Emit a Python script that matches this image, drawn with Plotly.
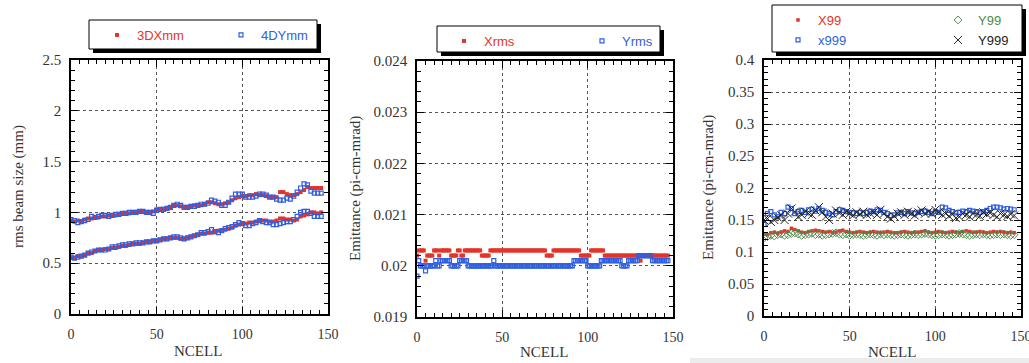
import plotly.graph_objects as go

W, H = 1029, 363

# ---------------- data ----------------
# Panel 1: rms beam size (mm), every 2nd cell, two bands per series
cells_p1 = list(range(0, 148, 2))
dx_upper = [0.92, 0.91, 0.92, 0.91, 0.93, 0.94, 0.94, 0.95, 0.95, 0.96,
            0.96, 0.97, 0.97, 0.97, 0.98, 0.99, 0.99, 0.99, 1.00, 1.00,
            1.01, 1.01, 1.00, 1.00, 1.01, 1.03, 1.03, 1.03, 1.04, 1.05,
            1.07, 1.07, 1.06, 1.05, 1.05, 1.06, 1.07, 1.07, 1.07, 1.08,
            1.10, 1.10, 1.09, 1.08, 1.08, 1.09, 1.10, 1.12, 1.14, 1.15,
            1.16, 1.16, 1.17, 1.17, 1.18, 1.17, 1.17, 1.16, 1.15, 1.15,
            1.15, 1.20, 1.20, 1.18, 1.17, 1.17, 1.18, 1.20, 1.22, 1.25,
            1.24, 1.24, 1.24, 1.24]
dx_lower = [0.55, 0.55, 0.57, 0.57, 0.58, 0.60, 0.60, 0.62, 0.63, 0.63,
            0.64, 0.64, 0.65, 0.65, 0.66, 0.67, 0.67, 0.68, 0.69, 0.69,
            0.69, 0.70, 0.71, 0.71, 0.72, 0.72, 0.73, 0.74, 0.74, 0.75,
            0.75, 0.75, 0.74, 0.74, 0.75, 0.76, 0.77, 0.78, 0.79, 0.79,
            0.80, 0.80, 0.81, 0.82, 0.82, 0.83, 0.84, 0.85, 0.87, 0.88,
            0.89, 0.89, 0.90, 0.90, 0.91, 0.92, 0.92, 0.92, 0.91, 0.91,
            0.92, 0.94, 0.94, 0.93, 0.93, 0.92, 0.93, 0.96, 0.97, 0.98,
            1.00, 1.00, 0.99, 1.00]
dy_upper = [0.93, 0.92, 0.90, 0.91, 0.92, 0.93, 0.96, 0.95, 0.96, 0.97,
            0.97, 0.96, 0.97, 0.98, 0.98, 0.99, 0.99, 1.00, 1.00, 1.00,
            1.01, 1.01, 1.00, 1.00, 0.99, 1.02, 1.03, 1.03, 1.04, 1.05,
            1.07, 1.08, 1.07, 1.05, 1.05, 1.06, 1.06, 1.07, 1.08, 1.08,
            1.09, 1.12, 1.11, 1.10, 1.07, 1.07, 1.10, 1.14, 1.18, 1.18,
            1.18, 1.15, 1.15, 1.15, 1.16, 1.18, 1.18, 1.17, 1.15, 1.15,
            1.13, 1.12, 1.12, 1.14, 1.13, 1.16, 1.20, 1.24, 1.28, 1.27,
            1.21, 1.19, 1.19, 1.19]
dy_lower = [0.56, 0.55, 0.56, 0.57, 0.58, 0.60, 0.61, 0.62, 0.63, 0.63,
            0.63, 0.64, 0.66, 0.66, 0.67, 0.68, 0.68, 0.69, 0.69, 0.70,
            0.70, 0.70, 0.71, 0.71, 0.72, 0.72, 0.73, 0.74, 0.74, 0.75,
            0.76, 0.76, 0.75, 0.74, 0.75, 0.76, 0.77, 0.78, 0.80, 0.80,
            0.81, 0.83, 0.81, 0.80, 0.82, 0.84, 0.85, 0.86, 0.88, 0.90,
            0.89, 0.87, 0.87, 0.89, 0.90, 0.92, 0.91, 0.90, 0.90, 0.88,
            0.88, 0.89, 0.90, 0.91, 0.91, 0.93, 0.96, 1.00, 1.01, 1.01,
            0.99, 0.96, 0.96, 0.96]

# Panel 2: rms emittance, every cell
cells_p2 = list(range(0, 148))
xrms = [0.0202, 0.0203, 0.0203, 0.0203, 0.0203, 0.0201, 0.0202, 0.0202, 0.0202, 0.0202,
        0.0203, 0.0203, 0.0203, 0.0202, 0.0203, 0.0203, 0.0203, 0.0203, 0.0203, 0.0203,
        0.0202, 0.0202, 0.0202, 0.0202, 0.0203, 0.0203, 0.0202, 0.0202, 0.0203, 0.0203,
        0.0203, 0.0203, 0.0203, 0.0203, 0.0203, 0.0203, 0.0203, 0.0203, 0.0202, 0.0202,
        0.0202, 0.0202, 0.0202, 0.0203, 0.0203, 0.0203, 0.0203, 0.0203, 0.0203, 0.0203,
        0.0203, 0.0203, 0.0203, 0.0203, 0.0203, 0.0203, 0.0203, 0.0203, 0.0203, 0.0203,
        0.0203, 0.0203, 0.0203, 0.0203, 0.0203, 0.0203, 0.0203, 0.0203, 0.0203, 0.0203,
        0.0203, 0.0203, 0.0203, 0.0203, 0.0203, 0.0203, 0.0202, 0.0202, 0.0202, 0.0202,
        0.0203, 0.0203, 0.0203, 0.0203, 0.0203, 0.0203, 0.0203, 0.0203, 0.0203, 0.0203,
        0.0203, 0.0203, 0.0203, 0.0203, 0.0203, 0.0203, 0.0202, 0.0202, 0.0202, 0.0202,
        0.0202, 0.0202, 0.0203, 0.0203, 0.0203, 0.0203, 0.0203, 0.0203, 0.0203, 0.0203,
        0.0202, 0.0202, 0.0202, 0.0202, 0.0202, 0.0202, 0.0202, 0.0202, 0.0202, 0.0202,
        0.0202, 0.0202, 0.0202, 0.0202, 0.0202, 0.0202, 0.0202, 0.0202, 0.0202, 0.0202,
        0.0202, 0.0201, 0.0202, 0.0202, 0.0202, 0.0202, 0.0202, 0.0202, 0.0202, 0.0202,
        0.0202, 0.0202, 0.0202, 0.0202, 0.0202, 0.0202, 0.0202, 0.0202]
yrms = [0.0198, 0.0201, 0.0200, 0.0200, 0.0200, 0.0199, 0.0200, 0.0200, 0.0200, 0.0200,
        0.0200, 0.0201, 0.0200, 0.0200, 0.0201, 0.0201, 0.0201, 0.0201, 0.0201, 0.0201,
        0.0200, 0.0200, 0.0200, 0.0200, 0.0200, 0.0201, 0.0201, 0.0201, 0.0201, 0.0201,
        0.0200, 0.0200, 0.0200, 0.0200, 0.0200, 0.0200, 0.0200, 0.0200, 0.0200, 0.0200,
        0.0200, 0.0200, 0.0200, 0.0200, 0.0200, 0.0201, 0.0200, 0.0200, 0.0200, 0.0200,
        0.0200, 0.0200, 0.0200, 0.0200, 0.0200, 0.0200, 0.0200, 0.0200, 0.0200, 0.0200,
        0.0200, 0.0200, 0.0200, 0.0200, 0.0200, 0.0200, 0.0200, 0.0200, 0.0200, 0.0200,
        0.0200, 0.0200, 0.0200, 0.0200, 0.0200, 0.0200, 0.0200, 0.0200, 0.0200, 0.0200,
        0.0200, 0.0200, 0.0200, 0.0200, 0.0200, 0.0200, 0.0200, 0.0200, 0.0200, 0.0200,
        0.0200, 0.0200, 0.0201, 0.0201, 0.0201, 0.0201, 0.0201, 0.0201, 0.0201, 0.0201,
        0.0200, 0.0200, 0.0200, 0.0200, 0.0200, 0.0200, 0.0200, 0.0200, 0.0201, 0.0201,
        0.0201, 0.0201, 0.0201, 0.0201, 0.0201, 0.0201, 0.0201, 0.0201, 0.0201, 0.0201,
        0.0200, 0.0200, 0.0200, 0.0200, 0.0201, 0.0201, 0.0201, 0.0201, 0.0201, 0.0201,
        0.0202, 0.0202, 0.0202, 0.0202, 0.0202, 0.0202, 0.0202, 0.0202, 0.0201, 0.0201,
        0.0201, 0.0201, 0.0201, 0.0201, 0.0201, 0.0201, 0.0201, 0.0201]

# Panel 3: 99% / 99.9% emittances, every 2nd cell
cells_p3 = list(range(0, 148, 2))
x99 = [0.128, 0.127, 0.130, 0.131, 0.129, 0.131, 0.133, 0.132, 0.137, 0.135,
       0.133, 0.131, 0.130, 0.132, 0.133, 0.134, 0.133, 0.132, 0.131, 0.132,
       0.130, 0.131, 0.133, 0.134, 0.132, 0.131, 0.130, 0.131, 0.132, 0.131,
       0.130, 0.131, 0.132, 0.131, 0.130, 0.131, 0.132, 0.131, 0.130, 0.130,
       0.131, 0.132, 0.131, 0.130, 0.131, 0.131, 0.132, 0.133, 0.131, 0.130,
       0.131, 0.132, 0.131, 0.130, 0.131, 0.132, 0.131, 0.130, 0.132, 0.133,
       0.132, 0.131, 0.131, 0.132, 0.131, 0.130, 0.131, 0.132, 0.131, 0.132,
       0.131, 0.130, 0.131, 0.130]
y99 = [0.122, 0.124, 0.126, 0.125, 0.127, 0.128, 0.126, 0.127, 0.129, 0.130,
       0.128, 0.126, 0.127, 0.128, 0.129, 0.127, 0.128, 0.126, 0.127, 0.128,
       0.129, 0.130, 0.128, 0.127, 0.128, 0.126, 0.127, 0.128, 0.127, 0.126,
       0.127, 0.128, 0.127, 0.126, 0.128, 0.127, 0.128, 0.127, 0.126, 0.127,
       0.128, 0.127, 0.126, 0.127, 0.128, 0.127, 0.128, 0.129, 0.128, 0.127,
       0.126, 0.127, 0.128, 0.127, 0.126, 0.127, 0.128, 0.129, 0.128, 0.127,
       0.126, 0.127, 0.128, 0.127, 0.128, 0.127, 0.126, 0.127, 0.128, 0.127,
       0.128, 0.127, 0.126, 0.127]
x999 = [0.143, 0.160, 0.163, 0.158, 0.155, 0.162, 0.160, 0.170, 0.168, 0.160,
        0.163, 0.165, 0.162, 0.166, 0.167, 0.164, 0.168, 0.165, 0.162, 0.160,
        0.158, 0.163, 0.166, 0.165, 0.163, 0.162, 0.161, 0.160, 0.162, 0.160,
        0.162, 0.164, 0.163, 0.166, 0.165, 0.162, 0.160, 0.157, 0.158, 0.161,
        0.162, 0.160, 0.163, 0.161, 0.160, 0.162, 0.163, 0.164, 0.162, 0.160,
        0.163, 0.162, 0.170, 0.169, 0.165, 0.163, 0.161, 0.162, 0.164, 0.163,
        0.165, 0.164, 0.163, 0.162, 0.163, 0.165, 0.168, 0.170, 0.170, 0.169,
        0.167, 0.168, 0.167, 0.166]
y999 = [0.150, 0.152, 0.147, 0.150, 0.154, 0.158, 0.150, 0.160, 0.168, 0.163,
        0.155, 0.158, 0.163, 0.160, 0.158, 0.165, 0.170, 0.162, 0.155, 0.150,
        0.160, 0.165, 0.161, 0.158, 0.163, 0.160, 0.157, 0.162, 0.159, 0.163,
        0.158, 0.160, 0.162, 0.158, 0.166, 0.160, 0.155, 0.152, 0.156, 0.160,
        0.162, 0.158, 0.163, 0.160, 0.157, 0.162, 0.165, 0.160, 0.163, 0.160,
        0.166, 0.162, 0.158, 0.160, 0.156, 0.159, 0.153, 0.155, 0.160, 0.158,
        0.155, 0.160, 0.158, 0.156, 0.162, 0.159, 0.161, 0.158, 0.155, 0.160,
        0.158, 0.156, 0.159, 0.157]

x_ticks = [0, 50, 100, 150]

# ---------------- style ----------------
RED = "#e3342a"
BLUE = "#2f5fe0"
GREEN = "#4c8c4c"
BLACK = "#222222"
SERIF = "Liberation Serif"
SANS = "Liberation Sans"


def px(x):
    return x / W


def py(y):
    return 1 - y / H


def colored(name, color):
    return f'<span style="color:{color}">{name}</span>'


fig = go.Figure()

# Panel 1
fig.add_trace(go.Scatter(x=cells_p1 + cells_p1, y=dx_upper + dx_lower, mode="markers",
                         name=colored("3DXmm", RED), legend="legend", legendwidth=79,
                         marker=dict(symbol="square", size=4, color=RED, line=dict(width=0)),
                         xaxis="x", yaxis="y"))
fig.add_trace(go.Scatter(x=cells_p1 + cells_p1, y=dy_upper + dy_lower, mode="markers",
                         name=colored("4DYmm", BLUE), legend="legend",
                         marker=dict(symbol="square-open", size=4, color=BLUE, line=dict(width=1.2)),
                         xaxis="x", yaxis="y"))
# Panel 2
fig.add_trace(go.Scatter(x=cells_p2, y=xrms, mode="markers",
                         name=colored("Xrms", RED), legend="legend2", legendwidth=93,
                         marker=dict(symbol="square", size=4, color=RED, line=dict(width=0)),
                         xaxis="x2", yaxis="y2"))
fig.add_trace(go.Scatter(x=cells_p2, y=yrms, mode="markers",
                         name=colored("Yrms", BLUE), legend="legend2",
                         marker=dict(symbol="square-open", size=4, color=BLUE, line=dict(width=1.2)),
                         xaxis="x2", yaxis="y2"))
# Panel 3
fig.add_trace(go.Scatter(x=cells_p3, y=x99, mode="markers",
                         name=colored("X99", RED), legend="legend3", legendwidth=115,
                         marker=dict(symbol="square", size=3.5, color=RED, line=dict(width=0)),
                         xaxis="x3", yaxis="y3"))
fig.add_trace(go.Scatter(x=cells_p3, y=y99, mode="markers",
                         name=colored("Y99", GREEN), legend="legend3",
                         marker=dict(symbol="diamond-open", size=6, color=GREEN, line=dict(width=1)),
                         xaxis="x3", yaxis="y3"))
fig.add_trace(go.Scatter(x=cells_p3, y=x999, mode="markers",
                         name=colored("x999", BLUE), legend="legend4", legendwidth=115,
                         marker=dict(symbol="square-open", size=4, color=BLUE, line=dict(width=1.2)),
                         xaxis="x3", yaxis="y3"))
fig.add_trace(go.Scatter(x=cells_p3, y=y999, mode="markers",
                         name=colored("Y999", BLACK), legend="legend4",
                         marker=dict(symbol="x-thin-open", size=8, color=BLACK, line=dict(width=1)),
                         xaxis="x3", yaxis="y3"))


def xaxis(domain, anchor):
    return dict(domain=domain, anchor=anchor, range=[0, 150], tickvals=x_ticks,
                automargin=False, ticklabeloverflow="allow",
                showline=True, linecolor="black", linewidth=1.5, mirror="allticks",
                ticks="inside", ticklen=7, tickwidth=1, tickcolor="black",
                minor=dict(ticks="inside", ticklen=4, tickwidth=1, tickcolor="black",
                           dtick=5, showgrid=False),
                showgrid=True, gridcolor="#555555", griddash="dot", gridwidth=1,
                zeroline=False, ticklabelstandoff=6,
                tickfont=dict(family=SERIF, size=14, color="#333333"))


def yaxis(domain, anchor, rng, dtick, minor_dtick):
    return dict(domain=domain, anchor=anchor, range=rng, dtick=dtick, tick0=rng[0],
                automargin=False, ticklabeloverflow="allow",
                showline=True, linecolor="black", linewidth=1.5, mirror="allticks",
                ticks="inside", ticklen=7, tickwidth=1, tickcolor="black",
                minor=dict(ticks="inside", ticklen=4, tickwidth=1, tickcolor="black",
                           dtick=minor_dtick, tick0=rng[0], showgrid=False),
                showgrid=True, gridcolor="#555555", griddash="dot", gridwidth=1,
                zeroline=False, ticklabelstandoff=5,
                tickfont=dict(family=SERIF, size=15, color="#333333"))


def legend_cfg(x, y):
    return dict(x=px(x), y=py(y), xanchor="left", yanchor="top", orientation="h",
                bgcolor="rgba(0,0,0,0)", borderwidth=0,
                font=dict(family=SANS, size=13, color="#333333"))


shapes = []


def legend_box(x0, y0, x1, y1, off=4):
    shapes.append(dict(type="rect", xref="paper", yref="paper", layer="above",
                       x0=px(x0 + off), x1=px(x1 + off), y0=py(y1 + off), y1=py(y0 + off),
                       fillcolor="black", line=dict(width=0)))
    shapes.append(dict(type="rect", xref="paper", yref="paper", layer="above",
                       x0=px(x0), x1=px(x1), y0=py(y1), y1=py(y0),
                       fillcolor="white", line=dict(color="black", width=1)))


legend_box(89, 20, 317, 49)
legend_box(437, 26, 660, 52)
legend_box(772, 5, 1022, 52)

# light grey strip along the bottom of the right picture
shapes.append(dict(type="rect", xref="paper", yref="paper", layer="below",
                   x0=px(690), x1=1, y0=0, y1=py(358),
                   fillcolor="#ececec", line=dict(width=0)))

annotations = []


def ann(text, x, y, angle=0, size=15):
    annotations.append(dict(text=text, x=px(x), y=py(y), xref="paper", yref="paper",
                            showarrow=False, textangle=angle, xanchor="center", yanchor="middle",
                            font=dict(family=SERIF, size=size, color="#333333")))


ann("NCELL", 198, 351)
ann("NCELL", 544, 352)
ann("NCELL", 892, 352)
ann("rms beam size (mm)", 18, 187, angle=-90)
ann("Emittance (pi-cm-mrad)", 355, 189, angle=-90)
ann("Emittance (pi-cm-mrad)", 708, 188, angle=-90)

fig.update_layout(
    width=W, height=H, margin=dict(l=0, r=0, t=0, b=0, autoexpand=False),
    paper_bgcolor="white", plot_bgcolor="white",
    xaxis=xaxis([px(71), px(328)], "y"),
    yaxis=yaxis([py(314), py(60)], "x", [0, 2.5], 0.5, 0.1),
    xaxis2=xaxis([px(417), px(673)], "y2"),
    yaxis2=yaxis([py(317), py(61)], "x2", [0.019, 0.024], 0.001, 0.0002),
    xaxis3=xaxis([px(764), px(1021)], "y3"),
    yaxis3=yaxis([py(316), py(60)], "x3", [0, 0.4], 0.05, 0.01),
    legend=legend_cfg(97, 20),
    legend2=legend_cfg(444, 26),
    legend3=legend_cfg(778, 5),
    legend4=legend_cfg(778, 25),
    shapes=shapes,
    annotations=annotations,
    showlegend=True,
)

fig.write_html("out.html")
